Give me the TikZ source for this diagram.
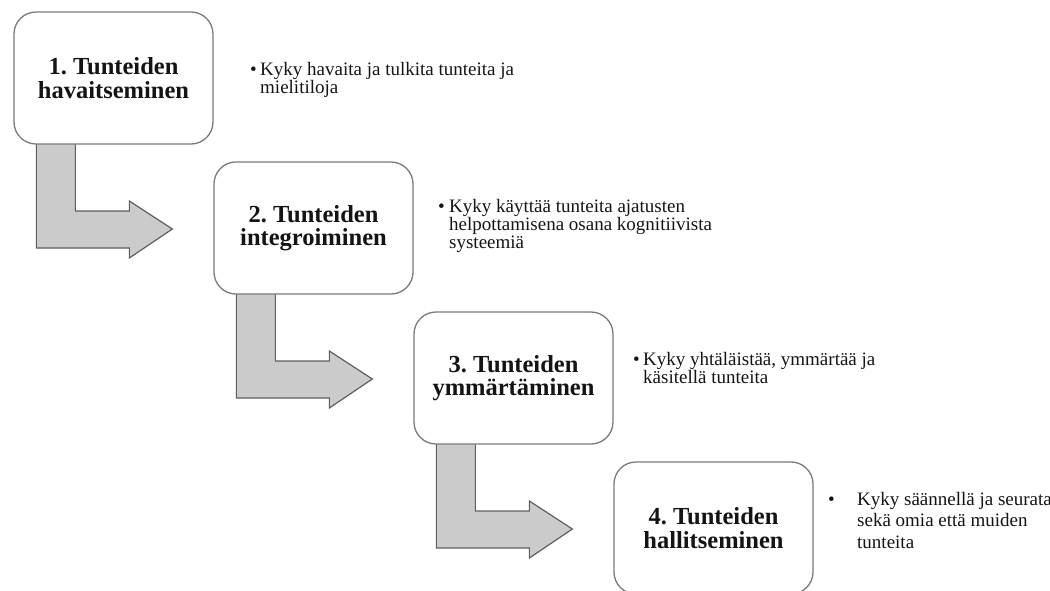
\documentclass[tikz,border=0pt]{standalone}
\usepackage{fontspec}
\setmainfont{Liberation Serif}
\usetikzlibrary{calc}
\frenchspacing
\pgfdeclarelayer{bg}
\pgfsetlayers{bg,main}
\definecolor{boxline}{HTML}{7A7A7A}
\definecolor{arrfill}{HTML}{CBCBCB}
\definecolor{arrline}{HTML}{5E5E5E}
\definecolor{txt}{HTML}{141414}
\tikzset{
  stagebox/.style={draw=boxline, line width=1.3pt, fill=white, rounded corners=22pt,
    minimum width=199pt, minimum height=132pt, inner sep=0pt, align=center,
    text=txt, font=\fontsize{24.5}{23.5}\selectfont\bfseries\frenchspacing},
  desc/.style={anchor=base west, inner sep=0pt, text=txt},
  bentarrow/.style={draw=arrline, fill=arrfill, line width=1.2pt, line join=miter}
}
\newcommand{\bentarr}[2]{%
  \begin{pgfonlayer}{bg}
  \draw[bentarrow] let \p1=(#1.south west), \p2=(#2.west) in
    (\x1+23pt,\y1+2pt) -- (\x1+23pt,\y2-20pt) -- (\x2-84pt,\y2-20pt) -- (\x2-84pt,\y2-30pt)
    -- (\x2-41pt,\y2-1pt) -- (\x2-84pt,\y2+27pt) -- (\x2-84pt,\y2+17pt)
    -- (\x1+62pt,\y2+17pt) -- (\x1+62pt,\y1+2pt) -- cycle;
  \end{pgfonlayer}}
\newcommand{\desctext}[3]{\parbox[t]{300pt}{\fontsize{19}{#1}\selectfont\raggedright\makebox[#2][l]{\textbullet}#3}}
\begin{document}
\begin{tikzpicture}[x=1pt, y=-1pt]
\useasboundingbox (0,0) rectangle (1050,590);
\clip (0,0) rectangle (1050,590);

\node[stagebox] (b1) at (113.5,78) {1. Tunteiden\\havaitseminen};
\node[stagebox] (b2) at (313.5,228) {2. Tunteiden\\integroiminen};
\node[stagebox] (b3) at (513.5,378) {3. Tunteiden\\ymmärtäminen};
\node[stagebox] (b4) at (713.5,528) {4. Tunteiden\\hallitseminen};

\bentarr{b1}{b2}
\bentarr{b2}{b3}
\bentarr{b3}{b4}

\node[desc] (t1) at (250,75) {\desctext{18}{10pt}{Kyky havaita ja tulkita tunteita ja\\\hspace*{10pt}mielitiloja}};
\node[desc] (t2) at (438,212) {\desctext{18}{11pt}{Kyky käyttää tunteita ajatusten\\\hspace*{11pt}helpottamisena osana kognitiivista\\\hspace*{11pt}systeemiä}};
\node[desc] (t3) at (633,365) {\desctext{18.5}{10pt}{Kyky yhtäläistää, ymmärtää ja\\\hspace*{10pt}käsitellä tunteita}};
\node[desc] (t4) at (828,505) {\desctext{21.5}{29pt}{Kyky säännellä ja seurata\\\hspace*{29pt}sekä omia että muiden\\\hspace*{29pt}tunteita}};
\end{tikzpicture}
\end{document}
